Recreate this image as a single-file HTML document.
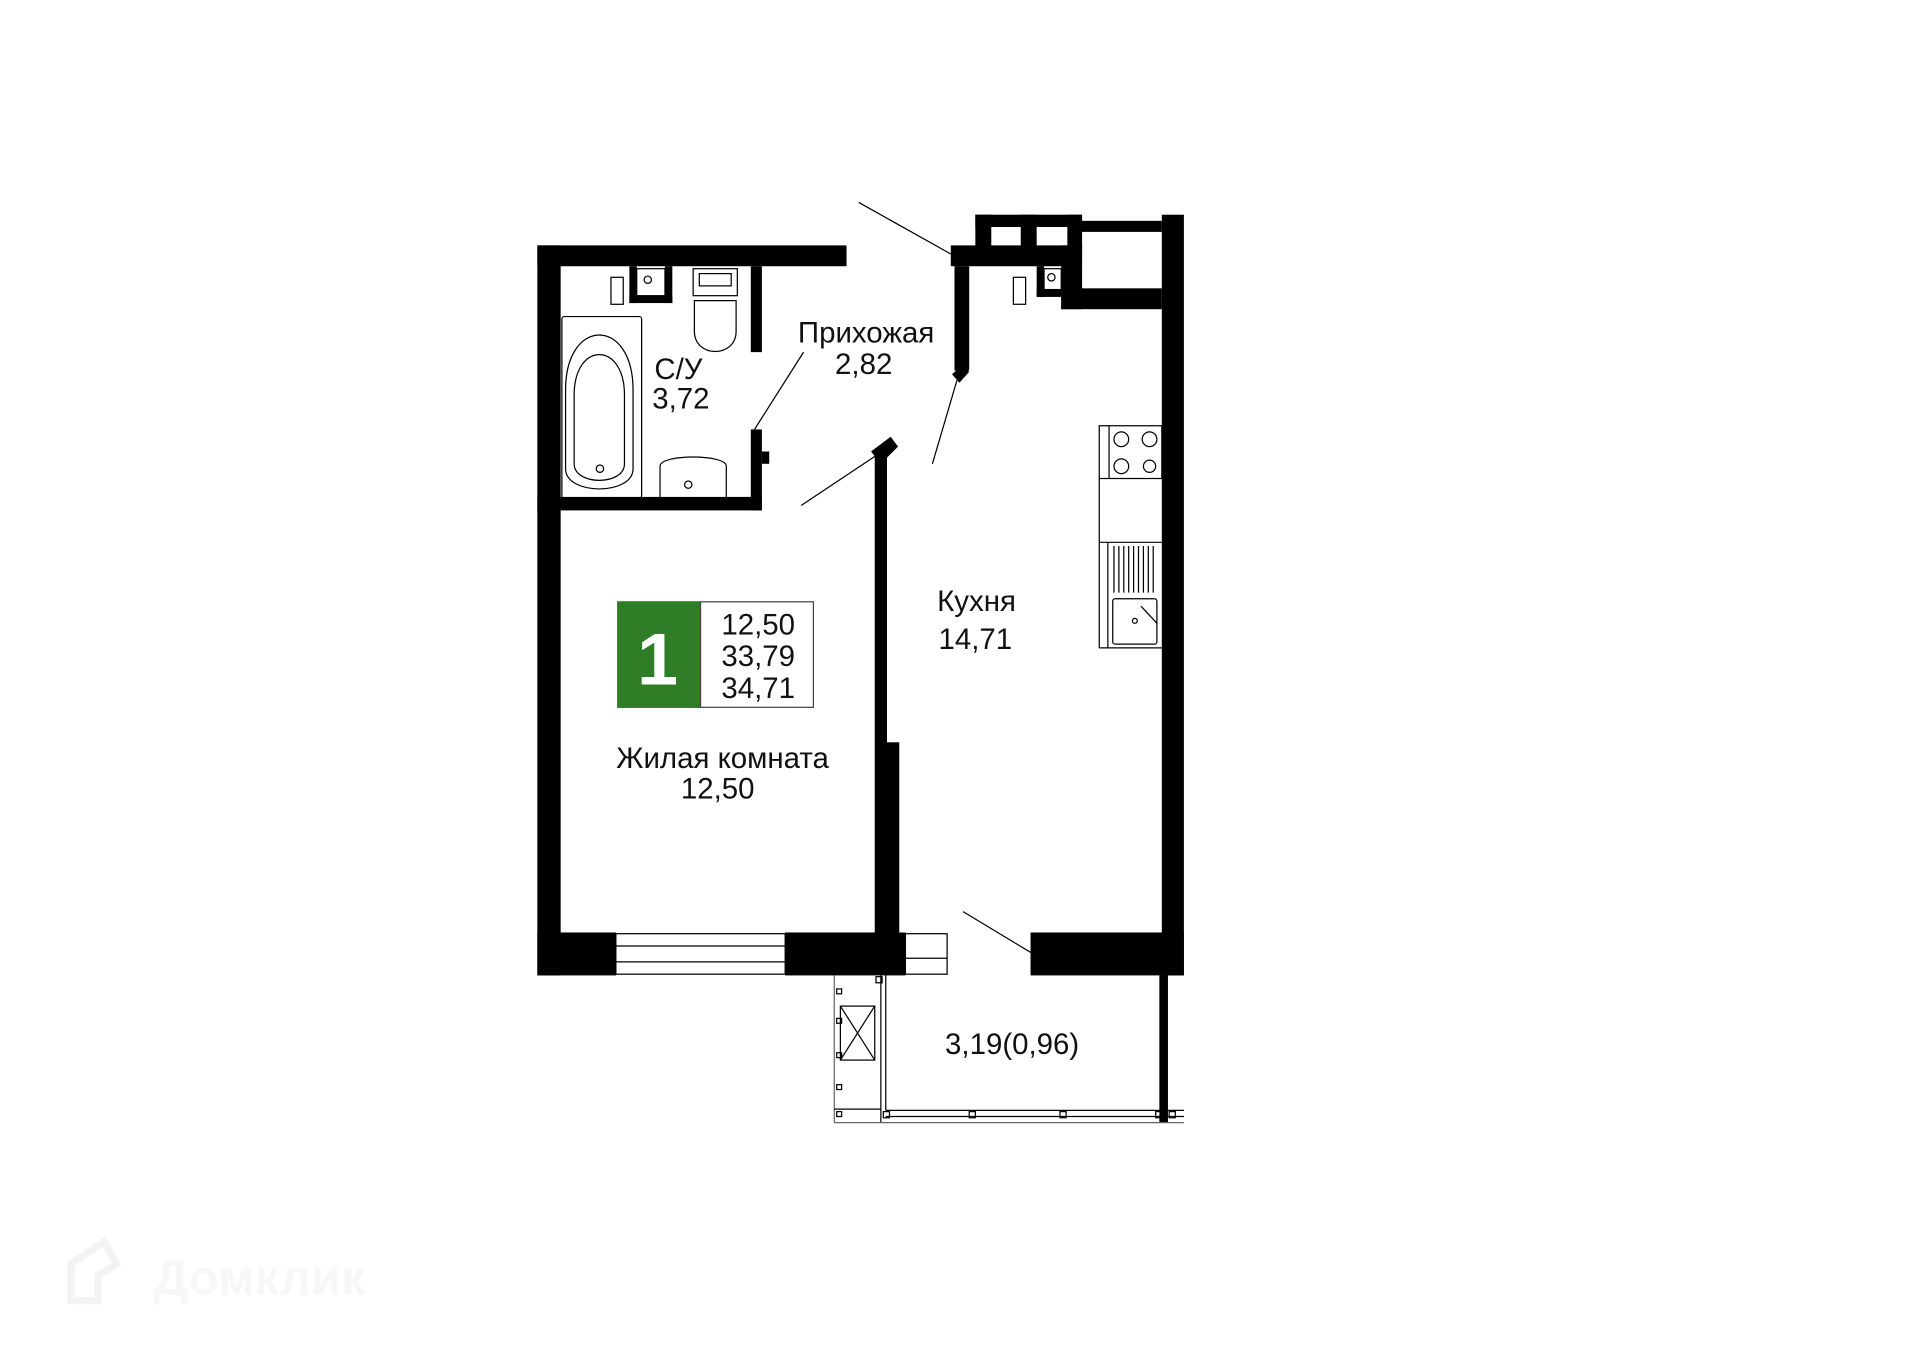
<!DOCTYPE html>
<html><head><meta charset="utf-8"><style>
html,body{margin:0;padding:0;background:#fff;width:1920px;height:1357px;overflow:hidden}
svg{display:block}
text{font-family:"Liberation Sans",sans-serif;fill:#111}
</style></head><body>
<svg width="1920" height="1357" viewBox="0 0 1565 1106" preserveAspectRatio="none" xmlns="http://www.w3.org/2000/svg">
<g fill="#000">
<rect x="438" y="200" width="252" height="17"/>
<rect x="438" y="200" width="19" height="595"/>
<rect x="438" y="405" width="183" height="11"/>
<rect x="612" y="217" width="9" height="70"/>
<rect x="612" y="350" width="9" height="66"/>
<rect x="621" y="368" width="6" height="10"/>
<rect x="513" y="217" width="6" height="30"/><rect x="542" y="217" width="6" height="30"/><rect x="513" y="241" width="35" height="6"/>
<rect x="438" y="760" width="64" height="35"/>
<rect x="640" y="760" width="98" height="35"/>
<rect x="840" y="760" width="125" height="35"/>
<rect x="713" y="372" width="10" height="390"/>
<rect x="723" y="605" width="10" height="157"/>
<polygon points="710,368 726,356 732,364 718,378"/>
<rect x="947" y="175" width="18" height="620"/>
<rect x="795" y="175" width="87" height="10"/>
<rect x="795" y="175" width="13" height="30"/><rect x="832" y="175" width="13" height="30"/><rect x="870" y="175" width="12" height="30"/>
<rect x="775" y="200" width="107" height="17"/>
<rect x="880" y="180" width="67" height="9"/>
<rect x="865" y="200" width="17" height="52"/>
<rect x="865" y="235" width="82" height="17"/>
<rect x="845" y="217" width="6" height="25"/><rect x="845" y="236" width="20" height="6"/>
<rect x="778" y="217" width="12" height="85"/>
<polygon points="776,305 784,298 790,303 782,312"/>
<rect x="945" y="795" width="7" height="120"/>
</g>
<g fill="none" stroke="#000" stroke-width="1">
<line x1="700" y1="165" x2="775" y2="207"/>
<line x1="780" y1="310" x2="760" y2="378"/>
<line x1="653" y1="412" x2="716" y2="370"/>
<line x1="615" y1="350" x2="655" y2="287"/>
<line x1="785" y1="743" x2="843" y2="778"/>
<rect x="502" y="761" width="138" height="33"/><line x1="502" y1="771" x2="640" y2="771"/><line x1="502" y1="784" x2="640" y2="784"/>
<rect x="738" y="761" width="34" height="33"/><line x1="738" y1="781" x2="772" y2="781"/>
<line x1="718" y1="795" x2="718" y2="915"/><line x1="722" y1="795" x2="722" y2="905"/>
<line x1="722" y1="905" x2="965" y2="905"/><line x1="722" y1="910" x2="965" y2="910"/>
<line x1="680" y1="915" x2="965" y2="915" stroke="#666"/>
<line x1="680" y1="795" x2="680" y2="915" stroke="#666"/>
<line x1="680" y1="904" x2="718" y2="904"/>
<rect x="685" y="820" width="28" height="44"/><line x1="685" y1="820" x2="713" y2="864"/><line x1="713" y1="820" x2="685" y2="864"/>
<rect x="682" y="806" width="4" height="4"/><rect x="682" y="830" width="4" height="4"/><rect x="682" y="858" width="4" height="4"/><rect x="682" y="884" width="4" height="4"/><rect x="682" y="906" width="4" height="4"/>
<rect x="714" y="796" width="5" height="5"/><rect x="790" y="906" width="5" height="5"/><rect x="864" y="906" width="5" height="5"/><rect x="942" y="906" width="5" height="5"/><rect x="953" y="906" width="5" height="5"/><rect x="720" y="906" width="5" height="5"/>
<rect x="458" y="258" width="65" height="148" rx="2"/>
<path d="M461 318 C461 258 516 258 516 318 L516 382 C516 404 461 404 461 382 Z"/>
<path d="M468 322 C468 278 509 278 509 322 L509 378 C509 396 468 396 468 378 Z"/>
<circle cx="489" cy="382" r="3"/>
<rect x="498" y="226" width="10" height="22"/><rect x="519" y="219" width="23" height="22"/><circle cx="528" cy="228" r="3"/>
<rect x="565" y="219" width="36" height="22"/><rect x="570" y="223" width="26" height="10"/>
<path d="M566 245 L600 245 L600 270 C600 292 566 292 566 270 Z"/>
<path d="M538 380 C538 370 592 370 592 380 L592 407 L538 407 Z"/><circle cx="561" cy="395" r="3"/>
<rect x="826" y="226" width="10" height="22"/><rect x="851" y="219" width="14" height="17"/><circle cx="857" cy="226" r="3"/>
<rect x="896" y="347" width="51" height="43"/><line x1="904" y1="347" x2="904" y2="390"/>
<circle cx="914" cy="358" r="6"/><circle cx="937" cy="358" r="6"/><circle cx="914" cy="380" r="6"/><circle cx="937" cy="380" r="5"/>
<line x1="896" y1="390" x2="896" y2="528"/><line x1="896" y1="442" x2="947" y2="442"/><line x1="896" y1="528" x2="947" y2="528"/>
<line x1="903" y1="442" x2="903" y2="528"/>
<rect x="907" y="488" width="36" height="37" rx="2"/><circle cx="925" cy="506" r="2"/><line x1="930" y1="494" x2="943" y2="508"/>
</g>
<g stroke="#000" stroke-width="1">
<line x1="908" y1="445" x2="908" y2="483"/><line x1="912" y1="445" x2="912" y2="483"/><line x1="916" y1="445" x2="916" y2="483"/><line x1="920" y1="445" x2="920" y2="483"/><line x1="924" y1="445" x2="924" y2="483"/><line x1="928" y1="445" x2="928" y2="483"/><line x1="932" y1="445" x2="932" y2="483"/><line x1="936" y1="445" x2="936" y2="483"/><line x1="940" y1="445" x2="940" y2="483"/>
</g>
<rect x="503" y="490" width="68" height="87" fill="#2f7d27"/>
<rect x="571" y="490.5" width="92" height="86" fill="#fff" stroke="#444" stroke-width="1"/>
<text x="536" y="558" font-size="60" font-weight="bold" text-anchor="middle" style="fill:#fff">1</text>
<g font-size="24" text-anchor="middle">
<text x="618" y="517">12,50</text><text x="618" y="543">33,79</text><text x="618" y="569">34,71</text>
<text x="706" y="279">Прихожая</text><text x="704" y="305">2,82</text>
<text x="553" y="309">С/У</text><text x="555" y="333">3,72</text>
<text x="796" y="498">Кухня</text><text x="795" y="529">14,71</text>
<text x="589" y="626">Жилая комната</text><text x="585" y="651">12,50</text>
<text x="825" y="859">3,19(0,96)</text>
</g>
<path d="M58 1030 L58 1060 L80 1060 L80 1040 L95 1030 L85 1012 Z" fill="none" stroke="#f3f3f3" stroke-width="6"/>
<text x="125" y="1055" font-size="40" font-weight="bold" style="fill:#f7f7f7">Домклик</text>
</svg>
</body></html>
